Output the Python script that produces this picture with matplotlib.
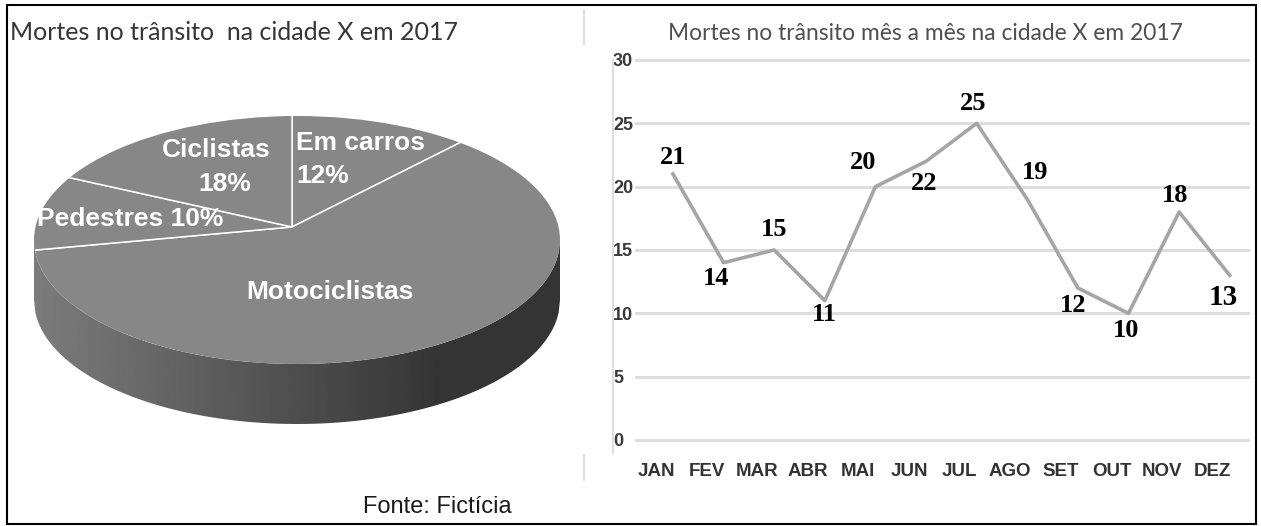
import numpy as np
import matplotlib.pyplot as plt
from matplotlib.patches import Circle, Polygon, Rectangle
from matplotlib.lines import Line2D

# pizza: fatias no sentido horario a partir do topo (como no Excel)
pie_labels = ["Em carros", "Motociclistas", "Pedestres", "Ciclistas"]
pie_values = [12, 60, 10, 18]

# linha: mortes mes a mes
months = ["JAN", "FEV", "MAR", "ABR", "MAI", "JUN", "JUL", "AGO", "SET", "OUT", "NOV", "DEZ"]
deaths = [21, 14, 15, 11, 20, 22, 25, 19, 12, 10, 18, 13]
yticks = [0, 5, 10, 15, 20, 25, 30]

# deslocamento dos rotulos (pixels, dx, dy para cima)
lab_off = [(0, 16), (-7, -16), (0, 20), (0, -14), (-12, 24), (-2, -22),
           (-4, 20), (8, 27), (-5, -18), (-2, -17), (-4, 17), (-7, -22)]

W, H = 1261, 526
fig = plt.figure(figsize=(W / 100, H / 100), dpi=100)


def px_axes(l, t, r, b):
    return fig.add_axes([l / W, 1 - b / H, (r - l) / W, (b - t) / H])


def px_text(x, y, s, **kw):
    return fig.text(x / W, 1 - y / H, s, **kw)


# ---------- pizza 3D ----------
ax1 = px_axes(20, 100, 580, 440)
cx, cy, rx, ry = 297, 240, 263, 124
depth = 60 / ry

# parede lateral com degrade
x = np.linspace(-1, 1, 400)
low = -np.sqrt(1 - x ** 2)
side = Polygon(np.column_stack([np.r_[x, x[::-1]], np.r_[low, (low - depth)[::-1]]]),
               closed=True, facecolor='none', edgecolor='none', transform=ax1.transData)
ax1.add_patch(side)
g = np.linspace(0, 1, 300)
shade = np.clip(0x7c / 255 - (0x7c - 0x34) / 255 * g / 0.78, 0x34 / 255, 1)
img = ax1.imshow(shade[None, :], cmap='gray', vmin=0, vmax=1, extent=(-1, 1, -1 - depth, 0),
                 aspect='auto', zorder=1)
img.set_clip_path(side)

wedges, _ = ax1.pie(pie_values, startangle=90, counterclock=False, radius=1.4,
                    center=(-0.019, 0.105), colors=['#878787'] * len(pie_values),
                    wedgeprops=dict(edgecolor='white', linewidth=1.1))
top = Circle((0, 0), 1, transform=ax1.transData)
for w in wedges:
    w.set_clip_on(True)
    w.set_clip_path(top)
    w.set_zorder(2)
ax1.set_aspect('auto')
ax1.set_xlim((20 - cx) / rx, (580 - cx) / rx)
ax1.set_ylim((cy - 440) / ry, (cy - 100) / ry)
ax1.axis('off')

lbl = dict(color='white', fontweight='bold', fontsize=19, family='Liberation Sans')
px_text(216, 150, pie_labels[3], ha='center', va='center', **lbl)
px_text(225, 184, f"{pie_values[3]}%", ha='center', va='center', **lbl)
px_text(296, 143, pie_labels[0], ha='left', va='center', **lbl)
px_text(296, 176, f"{pie_values[0]}%", ha='left', va='center', **lbl)
px_text(37, 219, f"{pie_labels[2]} {pie_values[2]}%", ha='left', va='center', **lbl)
px_text(330, 292, pie_labels[1], ha='center', va='center', **lbl)

px_text(10, 33, "Mortes no trânsito  na cidade X em 2017", ha='left', va='center',
        fontsize=18, family='Lato', color='#363636')

# ---------- linha ----------
ax2 = px_axes(635, 56.2, 1250, 443.8)
ax2.plot(range(len(deaths)), deaths, color='#a5a5a5', lw=2.6, zorder=3)
for i, (v, (dx, dy)) in enumerate(zip(deaths, lab_off)):
    ax2.annotate(str(v), (i, v), xytext=(dx * 0.72, dy * 0.72), textcoords='offset points',
                 ha='center', va='center', family='Liberation Serif', fontweight='bold',
                 fontsize=21 if i == len(deaths) - 1 else 19, color='black', zorder=4)
ax2.set_xlim(-0.75, 11.4)
ax2.set_ylim(-0.3, 30.3)
ax2.set_yticks(yticks)
ax2.set_yticklabels([str(t) for t in yticks], family='Liberation Sans', fontweight='bold',
                    fontsize=13, color='#3a3a3a', ha='left')
ax2.set_xticks(np.arange(len(months)) - 17 / 50.6)
ax2.set_xticklabels(months, family='Liberation Sans', fontweight='bold', fontsize=13.5,
                    color='#333333')
ax2.tick_params(axis='y', length=0, pad=15.8)
ax2.tick_params(axis='x', length=0, pad=14)
ax2.grid(axis='y', color='#dcdcdc', lw=2)
ax2.set_axisbelow(True)
for s in ax2.spines.values():
    s.set_visible(False)

px_text(925, 33, "Mortes no trânsito mês a mês na cidade X em 2017", ha='center', va='center',
        fontsize=16.4, family='Lato', color='#4f4f4f')

# linhas finas de separacao
for xs, ys in [((613, 613), (60, 453)), ((584, 584), (10, 44)), ((584, 584), (455, 480))]:
    fig.add_artist(Line2D([xs[0] / W, xs[1] / W], [1 - ys[0] / H, 1 - ys[1] / H],
                          color='#dedede', lw=1.5))

px_text(437, 507, "Fonte: Fictícia", ha='center', va='center', fontsize=17,
        family='Liberation Sans', color='#1a1a1a')

fig.add_artist(Rectangle((7 / W, 1 - 524 / H), 1249 / W, 519 / H, fill=False,
                         edgecolor='black', lw=1.5, transform=fig.transFigure))

fig.savefig('out.png', dpi=100)
